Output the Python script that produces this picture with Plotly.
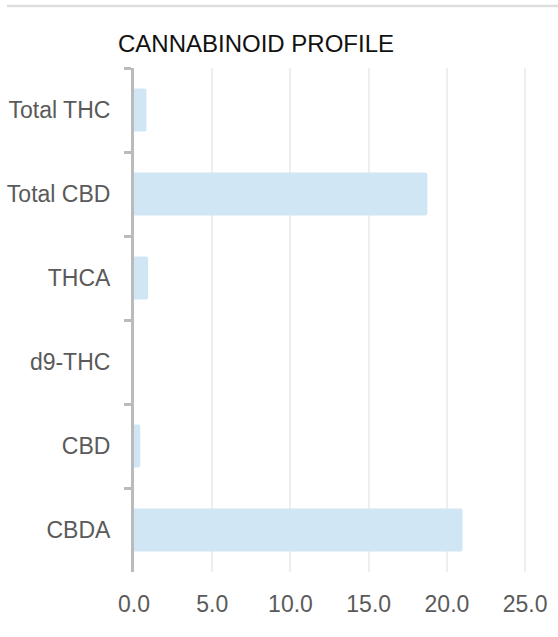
import plotly.graph_objects as go

categories = ["Total THC", "Total CBD", "THCA", "d9-THC", "CBD", "CBDA"]
values = [0.8, 18.75, 0.9, 0.0, 0.4, 21.0]
x_ticks = [0, 5, 10, 15, 20, 25]
x_tick_labels = ["0.0", "5.0", "10.0", "15.0", "20.0", "25.0"]
title_text = "CANNABINOID PROFILE"

W, H = 558, 637
L, R, T, B = 134, 0, 68, 65
pw = W - L - R
ph = H - T - B

fig = go.Figure(
    go.Bar(
        x=values,
        y=categories,
        orientation="h",
        marker=dict(color="#d0e6f4", line=dict(width=0), cornerradius=2),
        hoverinfo="x+y",
    )
)

fig.update_layout(
    width=W,
    height=H,
    margin=dict(l=L, r=R, t=T, b=B),
    paper_bgcolor="white",
    plot_bgcolor="white",
    bargap=0.49,
    showlegend=False,
    font=dict(family="Liberation Sans, Arial, sans-serif", color="#5a5a5a", size=22),
    title=dict(
        text=title_text,
        x=118 / W,
        xanchor="left",
        xref="container",
        y=1 - 44 / H,
        yanchor="middle",
        yref="container",
        font=dict(size=24, color="#111111", family="Liberation Sans, Arial, sans-serif"),
    ),
    shapes=[
        dict(
            type="line",
            xref="paper",
            yref="paper",
            x0=(7 - L) / pw,
            x1=1.0,
            y0=(H - B - 6) / ph,
            y1=(H - B - 6) / ph,
            line=dict(color="#dddddd", width=2.5),
        )
    ],
)

fig.update_xaxes(
    range=[0, 27.1],
    tickmode="array",
    tickvals=x_ticks,
    ticktext=x_tick_labels,
    showgrid=True,
    gridcolor="#eeeeee",
    gridwidth=2,
    zeroline=False,
    showline=False,
    ticks="",
    ticklabelstandoff=16,
    tickfont=dict(size=23, color="#5a5a5a"),
    fixedrange=True,
)

fig.update_yaxes(
    categoryorder="array",
    categoryarray=categories,
    autorange="reversed",
    showline=True,
    linecolor="#bbbbbb",
    linewidth=3,
    ticks="outside",
    tickson="boundaries",
    ticklen=7,
    tickwidth=3,
    tickcolor="#bbbbbb",
    showgrid=False,
    zeroline=False,
    ticklabelstandoff=16,
    tickfont=dict(size=23, color="#5a5a5a"),
    fixedrange=True,
)

fig.write_html(
    "out.html",
    config={"displayModeBar": False},
    post_script="document.body.style.margin='0';document.body.style.overflow='hidden';",
)
